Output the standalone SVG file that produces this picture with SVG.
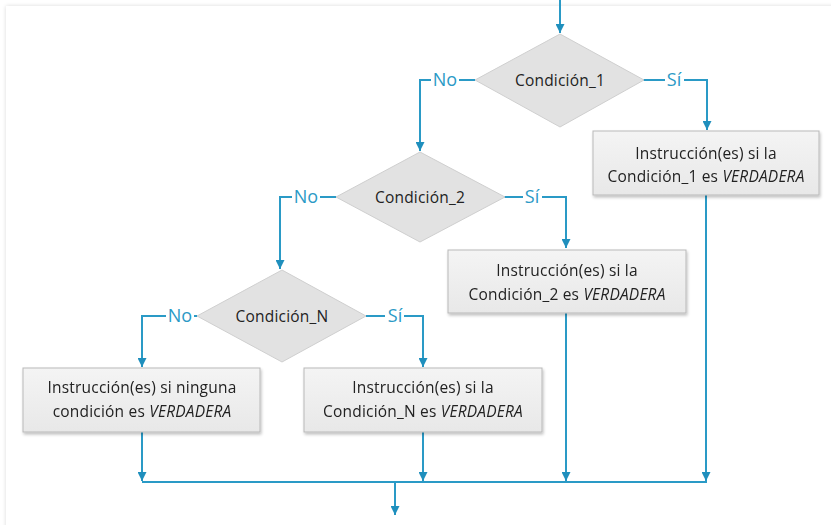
<svg xmlns="http://www.w3.org/2000/svg" width="831" height="525" viewBox="0 0 831 525">
<defs>
<marker id="ah" viewBox="0 0 10 10" refX="10" refY="5" markerWidth="9" markerHeight="9" markerUnits="userSpaceOnUse" orient="auto">
<path d="M0,0 L10,5 L0,10 z" fill="#1f8fbd"/>
</marker>
<linearGradient id="boxg" x1="0" y1="0" x2="0" y2="1">
<stop offset="0" stop-color="#f4f4f4"/>
<stop offset="1" stop-color="#e8e8e8"/>
</linearGradient>
<filter id="sh" x="-10%" y="-20%" width="130%" height="150%">
<feGaussianBlur in="SourceAlpha" stdDeviation="1.5"/>
<feOffset dx="1" dy="2"/>
<feComponentTransfer><feFuncA type="linear" slope="0.25"/></feComponentTransfer>
<feMerge><feMergeNode/><feMergeNode in="SourceGraphic"/></feMerge>
</filter>
<filter id="page" x="-5%" y="-5%" width="110%" height="110%">
<feGaussianBlur in="SourceAlpha" stdDeviation="2"/>
<feComponentTransfer><feFuncA type="linear" slope="0.15"/></feComponentTransfer>
<feMerge><feMergeNode/><feMergeNode in="SourceGraphic"/></feMerge>
</filter>
</defs>
<style>
.conn{fill:none;stroke:#2a9ac6;stroke-width:2}
.box{fill:url(#boxg);stroke:#b9b9b9;stroke-width:1}
.dia{fill:#e2e2e2;stroke:#cfcfcf;stroke-width:1}
.t{font-family:"Open Sans","Liberation Sans",sans-serif;font-size:15.5px;fill:#222222;text-anchor:middle;letter-spacing:0.2px}
.lbl{font-family:"Open Sans","Liberation Sans",sans-serif;font-size:18px;fill:#2a9ac6;text-anchor:middle}
.i{font-style:italic}
</style>
<rect width="831" height="525" fill="#ffffff"/>
<rect x="6" y="6" width="840" height="540" fill="#ffffff" filter="url(#page)"/>

<g id="connectors">
<path class="conn" d="M560,0 V33" marker-end="url(#ah)"/>
<path class="conn" d="M475,80 H459 M431,80 H420 V151" marker-end="url(#ah)"/>
<path class="conn" d="M643,80 H665 M684,80 H707 V130" marker-end="url(#ah)"/>
<path class="conn" d="M336,197 H320 M292,197 H280 V269" marker-end="url(#ah)"/>
<path class="conn" d="M504,197 H523 M542,197 H566 V248" marker-end="url(#ah)"/>
<path class="conn" d="M197,316 H194 M166,316 H142 V367" marker-end="url(#ah)"/>
<path class="conn" d="M366,316 H385 M404,316 H423 V367" marker-end="url(#ah)"/>
<path class="conn" d="M142,432 V481" marker-end="url(#ah)"/>
<path class="conn" d="M423,432 V481" marker-end="url(#ah)"/>
<path class="conn" d="M566,313 V481" marker-end="url(#ah)"/>
<path class="conn" d="M706,195 V481" marker-end="url(#ah)"/>
<path class="conn" d="M142,482 H707"/>
<path class="conn" d="M395,482 V515" marker-end="url(#ah)"/>
<text class="lbl" x="445" y="86">No</text>
<text class="lbl" x="674" y="86">Sí</text>
<text class="lbl" x="306" y="203">No</text>
<text class="lbl" x="532" y="203">Sí</text>
<text class="lbl" x="180" y="322">No</text>
<text class="lbl" x="395" y="322">Sí</text>
</g>

<g id="cond1">
<polygon class="dia" points="560,34 644,80 560,127 475,80"/>
<text class="t" x="560" y="86">Condición_1</text>
</g>
<g id="inst1" filter="url(#sh)">
<rect class="box" x="593" y="131" width="226" height="64"/>
<text class="t" x="706" y="159">Instrucción(es) si la</text>
<text class="t" x="706" y="182">Condición_1 es <tspan class="i">VERDADERA</tspan></text>
</g>
<g id="cond2">
<polygon class="dia" points="420,152 505,197 420,242 336,197"/>
<text class="t" x="420" y="203">Condición_2</text>
</g>
<g id="inst2" filter="url(#sh)">
<rect class="box" x="448" y="250" width="238" height="63"/>
<text class="t" x="567" y="276">Instrucción(es) si la</text>
<text class="t" x="567" y="300">Condición_2 es <tspan class="i">VERDADERA</tspan></text>
</g>
<g id="condN">
<polygon class="dia" points="282,270 366,316 282,362 197,316"/>
<text class="t" x="282" y="322">Condición_N</text>
</g>
<g id="instN" filter="url(#sh)">
<rect class="box" x="304" y="368" width="238" height="64"/>
<text class="t" x="423" y="393">Instrucción(es) si la</text>
<text class="t" x="423" y="417">Condición_N es <tspan class="i">VERDADERA</tspan></text>
</g>
<g id="instNone" filter="url(#sh)">
<rect class="box" x="23" y="368" width="237" height="64"/>
<text class="t" x="142" y="393">Instrucción(es) si ninguna</text>
<text class="t" x="142" y="417">condición es <tspan class="i">VERDADERA</tspan></text>
</g>
</svg>
